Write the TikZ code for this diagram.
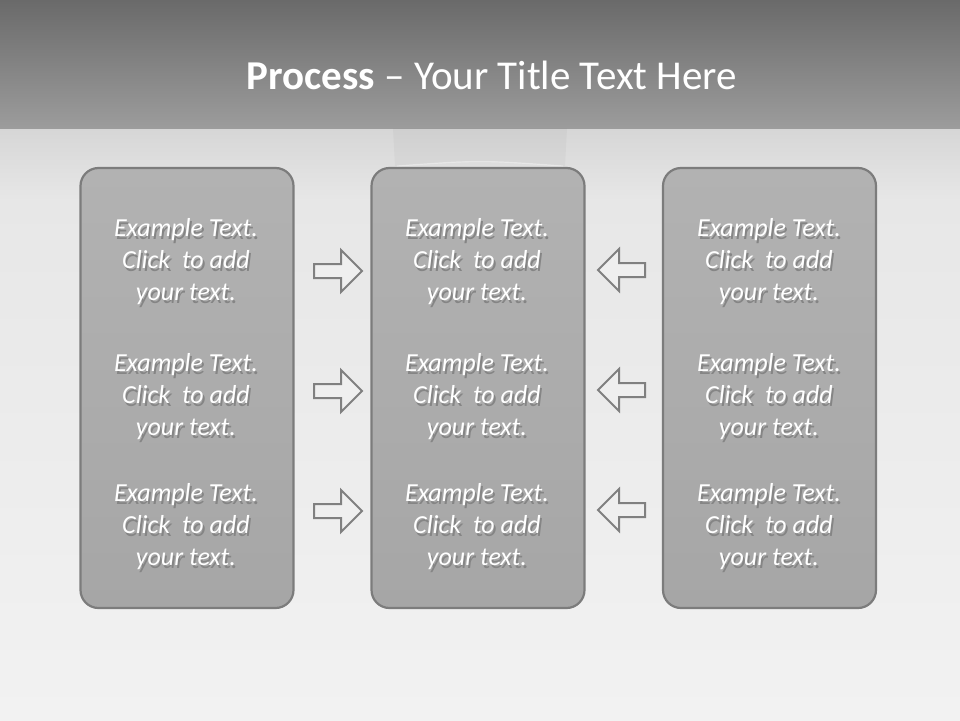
\documentclass[tikz,border=0pt]{standalone}
\usepackage{fontspec}
\setmainfont{Carlito}
\definecolor{bandtop}{HTML}{6A6A6A}
\definecolor{bandbot}{HTML}{9C9C9C}
\definecolor{bgtop}{HTML}{D6D6D6}
\definecolor{bgmid}{HTML}{E7E7E7}
\definecolor{bgbot}{HTML}{F2F2F2}
\definecolor{boxtop}{HTML}{B2B2B2}
\definecolor{boxbot}{HTML}{A6A6A6}
\definecolor{boxline}{HTML}{7C7C7C}
\definecolor{arrline}{HTML}{808080}
\definecolor{arrfill}{HTML}{EFEFEF}
\definecolor{shadowc}{HTML}{858585}
\newcommand\shl[1]{\leavevmode\rlap{\kern1.8pt\raisebox{-2.4pt}{\textcolor{shadowc}{#1}}}#1}
\tikzset{
  panel/.style={draw=boxline, line width=2.2pt, rounded corners=18pt, top color=boxtop, bottom color=boxbot, minimum width=213pt, minimum height=440pt, inner sep=0pt},
  txt/.style={align=center, text=white, font=\fontsize{26}{32}\selectfont\itshape, inner sep=0pt},
  arr/.style={draw=arrline, line width=2pt, fill=arrfill, line join=miter}
}
\begin{document}
\begin{tikzpicture}[x=1pt,y=-1pt]
\useasboundingbox (0,0) rectangle (960,720);
% background
\fill[top color=bgmid, bottom color=bgbot] (0,200) rectangle (960,720);
\fill[top color=bgtop, bottom color=bgmid] (0,128) rectangle (960,200.5);
\fill[top color=bandtop, bottom color=bandbot] (0,0) rectangle (960,128);
% faint light behind middle panel
\fill[gray, opacity=0.07] (393,128) -- (567,128) -- (565,166) .. controls (480,160) .. (395,166) -- cycle;
\draw[white, opacity=0.35, line width=1.2pt] (397,166) .. controls (480,160) .. (563,166);
% title
\node[text=white, font=\fontsize{41}{46}\selectfont, inner sep=0pt] (title) at (492,75) {\textbf{Process} – Your Title Text Here};
% panels
\node[panel] (L) at (187,388) {};
\node[panel] (M) at (478,388) {};
\node[panel] (R) at (769.5,388) {};
% texts
\foreach \x/\n in {186/L,477/M,769/R}{
  \foreach \y/\k in {263/1,398/2,528/3}{
    \node[txt] (\n\k) at (\x,\y) {\shl{Example Text.}\\\shl{Click\ \ to add}\\\shl{your text.}};
  }
}
% arrows right-pointing
\foreach \y in {271,391,511}{
  \draw[arr] (314,\y-7) -- (341,\y-7) -- (341,\y-21) -- (362,\y) -- (341,\y+21) -- (341,\y+7) -- (314,\y+7) -- cycle;
}
% arrows left-pointing
\foreach \y in {270,390,510}{
  \draw[arr] (645,\y-7) -- (619,\y-7) -- (619,\y-21) -- (598,\y) -- (619,\y+21) -- (619,\y+7) -- (645,\y+7) -- cycle;
}
\end{tikzpicture}
\end{document}
